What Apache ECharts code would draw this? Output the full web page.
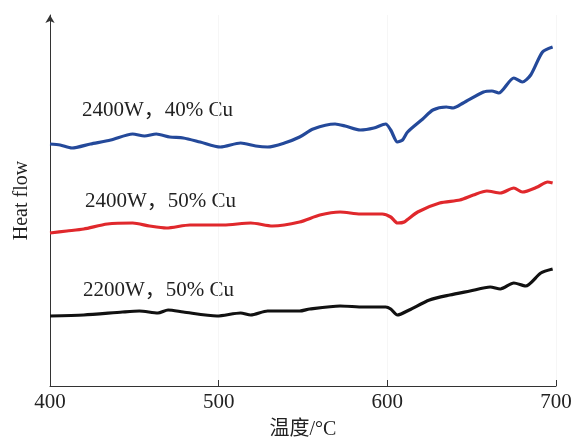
<!DOCTYPE html>
<html>
<head>
<meta charset="utf-8">
<script src="https://cdn.jsdelivr.net/npm/echarts@6/dist/echarts.min.js"></script>
<style>
  html, body { margin: 0; padding: 0; background: #fff; }
  #chart { width: 574px; height: 442px; }
</style>
</head>
<body>
<div id="chart"></div>
<script>
// temperature (°C) and heat flow (arbitrary units)
const blueTemp = [400, 406, 413, 424, 436, 449, 456, 463, 471, 479, 489, 501, 513, 522, 529, 539, 548, 556, 569, 575, 584, 592, 599, 602, 606, 609, 612, 621, 627, 635, 639, 645, 657, 662, 666, 675, 680, 685, 692, 698];
const blueFlow = [242, 241, 238, 242, 246, 252, 250, 252, 249, 248, 244, 239, 243, 240, 239, 243, 249, 257, 262, 260, 256, 258, 262, 256, 244, 246, 254, 267, 276, 279, 278, 283, 294, 295, 293, 308, 304, 311, 334, 339];

const redTemp = [400, 410, 420, 434, 449, 459, 469, 483, 503, 519, 532, 548, 560, 572, 584, 597, 602, 606, 610, 618, 631, 643, 651, 659, 667, 675, 680, 689, 695, 698];
const redFlow = [153, 155, 157, 162, 163, 160, 158, 161, 161, 163, 160, 164, 171, 174, 172, 172, 169, 163, 164, 174, 183, 186, 191, 195, 193, 198, 194, 199, 204, 203];

const blackTemp = [400, 420, 443, 453, 464, 470, 479, 499, 513, 519, 529, 548, 554, 572, 586, 599, 602, 606, 613, 625, 637, 649, 661, 667, 675, 682, 691, 698];
const blackFlow = [70, 71, 74, 75, 73, 76, 74, 70, 73, 71, 75, 75, 77, 80, 79, 79, 77, 71, 76, 86, 91, 95, 99, 97, 103, 100, 113, 117];

const xTicks = [400, 500, 600, 700];

const serif = 'Liberation Serif, Times New Roman, serif';
const labelFont = '21px ' + serif + ', Noto Sans CJK SC';

const pair = (xs, ys) => xs.map((x, i) => [x, ys[i]]);

const chart = echarts.init(document.getElementById('chart'));

chart.setOption({
    backgroundColor: '#fff',
    animation: false,
    grid: { left: 50, right: 18, top: 15, bottom: 56, outerBoundsMode: 'none' },
    xAxis: {
        type: 'value',
        min: xTicks[0],
        max: xTicks[xTicks.length - 1],
        interval: 100,
        name: '温度/°C',
        nameLocation: 'middle',
        nameGap: 34,
        nameTextStyle: { fontFamily: serif + ', Noto Sans CJK SC', fontSize: 20, color: '#222' },
        axisLine: { lineStyle: { color: '#333', width: 1 } },
        axisTick: { inside: true, length: 6, lineStyle: { color: '#333' } },
        axisLabel: { fontFamily: serif, fontSize: 21, color: '#222', margin: 6 },
        splitLine: { show: true, lineStyle: { color: '#f6f6f6' } }
    },
    yAxis: {
        type: 'value',
        min: 0,
        max: 371,
        name: 'Heat flow',
        nameLocation: 'middle',
        nameGap: 18,
        nameTextStyle: { fontFamily: serif, fontSize: 20, color: '#222' },
        axisLine: {
            show: true,
            symbol: ['none', 'arrow'],
            symbolSize: [7, 8],
            lineStyle: { color: '#333', width: 1 }
        },
        axisTick: { show: false },
        axisLabel: { show: false },
        splitLine: { show: false }
    },
    graphic: [
        { type: 'text', left: 82, top: 100, style: { text: '2400W，40% Cu', font: labelFont, fill: '#222' } },
        { type: 'text', left: 85, top: 191, style: { text: '2400W，50% Cu', font: labelFont, fill: '#222' } },
        { type: 'text', left: 83, top: 280, style: { text: '2200W，50% Cu', font: labelFont, fill: '#222' } }
    ],
    series: [
        {
            name: '2400W，40% Cu',
            type: 'line',
            data: pair(blueTemp, blueFlow),
            showSymbol: false,
            smooth: 0.25,
            lineStyle: { color: '#24499a', width: 3.2 }
        },
        {
            name: '2400W，50% Cu',
            type: 'line',
            data: pair(redTemp, redFlow),
            showSymbol: false,
            smooth: 0.25,
            lineStyle: { color: '#e0282c', width: 3.2 }
        },
        {
            name: '2200W，50% Cu',
            type: 'line',
            data: pair(blackTemp, blackFlow),
            showSymbol: false,
            smooth: 0.25,
            lineStyle: { color: '#111', width: 3.2 }
        }
    ]
});
</script>
</body>
</html>
